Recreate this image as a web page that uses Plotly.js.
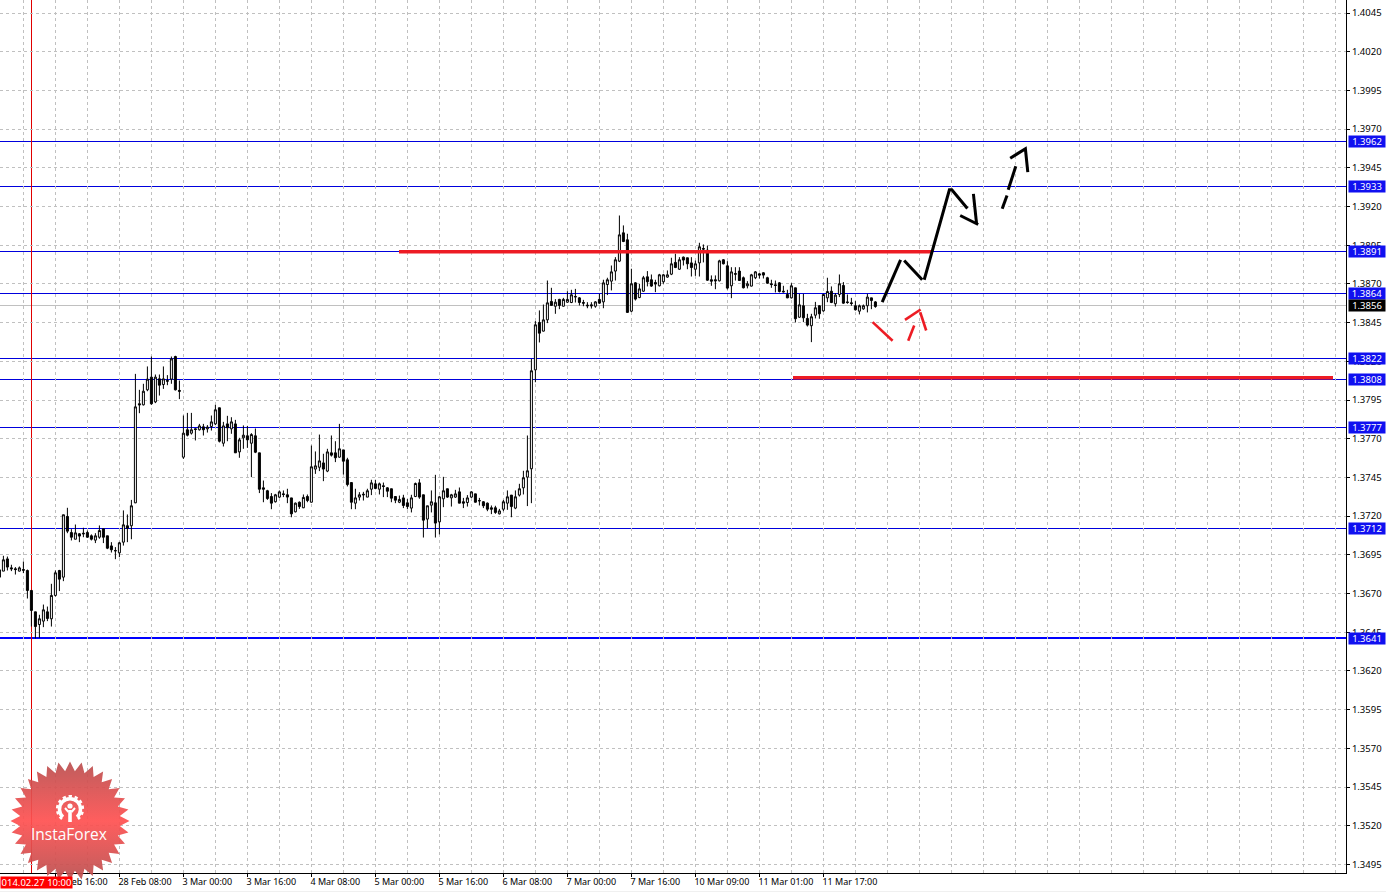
<!DOCTYPE html>
<html>
<head>
<meta charset="utf-8">
<script src="https://cdn.plot.ly/plotly-3.0.1.min.js"></script>
<style>html,body{margin:0;padding:0;background:#fff;overflow:hidden}
.shapelayer path{shape-rendering:crispEdges}</style>
</head>
<body>
<div id="chart" style="width:1386px;height:892px"></div>
<script>
const openP = [
1.36853,1.36845,1.36924,1.36866,1.36860,1.36845,1.36855,1.36849,1.36720,1.36582,
1.36500,1.36522,1.36582,1.36537,1.36688,1.36849,1.36806,1.37198,1.37094,1.37051,
1.37086,1.37090,1.37094,1.37073,1.37045,1.37064,1.37118,1.37073,1.37008,1.36978,
1.36963,1.37032,1.37138,1.37138,1.37286,1.37926,1.37919,1.38016,1.38098,1.37938,
1.38087,1.38050,1.38076,1.38085,1.38231,1.38012,1.37581,1.37758,1.37736,1.37764,
1.37758,1.37777,1.37764,1.37779,1.37796,1.37900,1.37671,1.37796,1.37764,1.37796,
1.37615,1.37706,1.37719,1.37671,1.37719,1.37609,1.37383,1.37364,1.37327,1.37293,
1.37323,1.37344,1.37338,1.37318,1.37228,1.37290,1.37254,1.37327,1.37290,1.37504,
1.37516,1.37544,1.37491,1.37609,1.37609,1.37581,1.37628,1.37564,1.37417,1.37284,
1.37323,1.37342,1.37323,1.37374,1.37409,1.37374,1.37396,1.37383,1.37377,1.37327,
1.37290,1.37318,1.37286,1.37252,1.37327,1.37415,1.37338,1.37181,1.37271,1.37286,
1.37163,1.37312,1.37377,1.37318,1.37323,1.37357,1.37293,1.37288,1.37323,1.37344,
1.37301,1.37293,1.37284,1.37254,1.37254,1.37215,1.37245,1.37284,1.37336,1.37252,
1.37336,1.37383,1.37452,1.37506,1.38145,
1.38451,1.38395,1.38468,1.38587,1.38556,
1.38600,1.38556,1.38582,1.38580,1.38615,1.38610,1.38580,1.38563,1.38565,1.38556,
1.38600,1.38584,1.38696,1.38718,1.38783,1.38847,1.39030,1.38985,1.38524,1.38707,
1.38612,1.38653,1.38746,1.38727,1.38709,1.38688,1.38714,1.38744,1.38763,1.38839,
1.38795,1.38873,1.38869,1.38836,1.38795,1.38836,1.38929,1.38918,1.38727,1.38727,
1.38720,1.38856,1.38817,1.38688,1.38767,
1.38783,1.38740,1.38688,1.38686,1.38740,
1.38765,1.38772,1.38740,1.38701,1.38694,1.38707,1.38653,1.38632,1.38610,1.38675,
1.38485,1.38559,1.38477,1.38430,1.38498,1.38559,1.38526,1.38610,1.38653,1.38572,
1.38632,1.38690,1.38584,1.38578,1.38559,1.38524,1.38539,1.38559,1.38610,1.38584];
const highP = [
1.36860,1.36944,1.36939,1.36886,1.36871,1.36875,1.36907,1.36855,1.36720,1.36582,
1.36563,1.36629,1.36616,1.36763,1.36849,1.36853,1.37209,1.37254,1.37116,1.37146,
1.37090,1.37125,1.37107,1.37082,1.37090,1.37140,1.37118,1.37073,1.37032,1.37000,
1.37034,1.37237,1.37211,1.37305,1.38119,1.38016,1.38055,1.38167,1.38231,1.38115,
1.38115,1.38167,1.38111,1.38231,1.38236,1.38076,1.37850,1.37867,1.37867,1.37768,
1.37796,1.37796,1.37788,1.37850,1.37919,1.37900,1.37809,1.37848,1.37839,1.37822,
1.37706,1.37786,1.37783,1.37736,1.37766,1.37609,1.37430,1.37370,1.37349,1.37344,
1.37366,1.37366,1.37377,1.37318,1.37288,1.37295,1.37340,1.37340,1.37656,1.37618,
1.37727,1.37603,1.37635,1.37721,1.37684,1.37796,1.37628,1.37577,1.37417,1.37377,
1.37355,1.37357,1.37377,1.37435,1.37435,1.37417,1.37417,1.37387,1.37377,1.37329,
1.37333,1.37338,1.37310,1.37338,1.37417,1.37439,1.37338,1.37267,1.37366,1.37467,
1.37331,1.37454,1.37377,1.37344,1.37370,1.37385,1.37318,1.37336,1.37361,1.37344,
1.37318,1.37297,1.37288,1.37269,1.37267,1.37247,1.37305,1.37366,1.37336,1.37366,
1.37409,1.37493,1.37721,1.38216,1.38460,
1.38529,1.38567,1.38722,1.38675,1.38602,
1.38604,1.38610,1.38653,1.38662,1.38668,1.38615,1.38597,1.38582,1.38582,1.38589,
1.38636,1.38727,1.38740,1.38819,1.38873,1.39142,1.39078,1.39024,1.38798,1.38712,
1.38701,1.38752,1.38783,1.38761,1.38727,1.38765,1.38765,1.38787,1.38869,1.38895,
1.38873,1.38877,1.38869,1.38873,1.38851,1.38966,1.38955,1.38948,1.38755,1.38755,
1.38856,1.38860,1.38847,1.38808,1.38808,
1.38808,1.38748,1.38718,1.38765,1.38783,
1.38770,1.38776,1.38746,1.38727,1.38722,1.38712,1.38688,1.38662,1.38705,1.38675,
1.38636,1.38636,1.38507,1.38507,1.38584,1.38563,1.38636,1.38740,1.38684,1.38641,
1.38761,1.38712,1.38632,1.38610,1.38589,1.38567,1.38567,1.38636,1.38610,1.38589];
const lowP = [
1.36795,1.36845,1.36849,1.36845,1.36823,1.36843,1.36832,1.36668,1.36487,1.36410,
1.36414,1.36483,1.36522,1.36487,1.36681,1.36716,1.36780,1.37090,1.37043,1.37051,
1.37032,1.37064,1.37060,1.37043,1.37026,1.37054,1.37026,1.36987,1.36965,1.36922,
1.36935,1.37010,1.37032,1.37051,1.37284,1.37865,1.37915,1.38007,1.37919,1.37930,
1.37979,1.38022,1.38046,1.38055,1.38012,1.37956,1.37570,1.37715,1.37727,1.37689,
1.37753,1.37721,1.37740,1.37753,1.37788,1.37676,1.37650,1.37684,1.37732,1.37609,
1.37577,1.37635,1.37641,1.37452,1.37607,1.37349,1.37290,1.37305,1.37245,1.37288,
1.37318,1.37323,1.37284,1.37193,1.37224,1.37247,1.37252,1.37290,1.37288,1.37473,
1.37491,1.37426,1.37484,1.37585,1.37549,1.37577,1.37469,1.37392,1.37245,1.37245,
1.37301,1.37301,1.37323,1.37336,1.37374,1.37340,1.37323,1.37323,1.37290,1.37284,
1.37284,1.37252,1.37245,1.37224,1.37323,1.37312,1.37062,1.37120,1.37224,1.37062,
1.37082,1.37258,1.37318,1.37262,1.37318,1.37284,1.37252,1.37262,1.37318,1.37288,
1.37269,1.37252,1.37232,1.37213,1.37215,1.37211,1.37232,1.37241,1.37193,1.37245,
1.37327,1.37340,1.37265,1.37284,1.38065,
1.38322,1.38393,1.38447,1.38561,1.38507,
1.38537,1.38554,1.38578,1.38576,1.38580,1.38561,1.38556,1.38543,1.38541,1.38546,
1.38572,1.38543,1.38628,1.38658,1.38722,1.38841,1.38970,1.38516,1.38518,1.38593,
1.38608,1.38649,1.38684,1.38681,1.38647,1.38684,1.38701,1.38740,1.38757,1.38802,
1.38791,1.38819,1.38795,1.38748,1.38752,1.38748,1.38839,1.38720,1.38688,1.38666,
1.38716,1.38826,1.38664,1.38608,1.38722,
1.38722,1.38671,1.38671,1.38684,1.38731,
1.38735,1.38735,1.38701,1.38675,1.38645,1.38645,1.38645,1.38608,1.38606,1.38451,
1.38481,1.38453,1.38425,1.38324,1.38477,1.38475,1.38520,1.38582,1.38576,1.38554,
1.38615,1.38572,1.38572,1.38559,1.38528,1.38503,1.38533,1.38516,1.38537,1.38546];
const closeP = [
1.36806,1.36918,1.36871,1.36860,1.36855,1.36866,1.36851,1.36720,1.36591,1.36487,
1.36537,1.36595,1.36539,1.36688,1.36834,1.36793,1.37209,1.37103,1.37064,1.37092,
1.37071,1.37086,1.37064,1.37051,1.37073,1.37107,1.37064,1.36993,1.36983,1.36976,
1.37028,1.37144,1.37122,1.37267,1.37906,1.37919,1.38007,1.38085,1.37926,1.38098,
1.38046,1.38087,1.38072,1.38216,1.38016,1.38007,1.37736,1.37723,1.37758,1.37760,
1.37783,1.37758,1.37775,1.37809,1.37887,1.37684,1.37783,1.37771,1.37809,1.37609,
1.37693,1.37723,1.37693,1.37727,1.37613,1.37374,1.37374,1.37314,1.37284,1.37338,
1.37357,1.37340,1.37323,1.37215,1.37284,1.37262,1.37321,1.37301,1.37519,1.37525,
1.37557,1.37504,1.37615,1.37594,1.37577,1.37635,1.37555,1.37404,1.37290,1.37318,
1.37338,1.37338,1.37364,1.37415,1.37379,1.37409,1.37392,1.37361,1.37316,1.37303,
1.37308,1.37269,1.37262,1.37318,1.37411,1.37323,1.37174,1.37267,1.37293,1.37155,
1.37325,1.37364,1.37323,1.37338,1.37344,1.37284,1.37284,1.37318,1.37357,1.37290,
1.37299,1.37267,1.37245,1.37245,1.37224,1.37234,1.37293,1.37325,1.37262,1.37325,
1.37377,1.37448,1.37493,1.38139,1.38436,
1.38382,1.38468,1.38578,1.38561,1.38582,
1.38561,1.38600,1.38600,1.38630,1.38619,1.38580,1.38576,1.38559,1.38559,1.38584,
1.38576,1.38707,1.38727,1.38778,1.38856,1.39017,1.38974,1.38516,1.38701,1.38602,
1.38668,1.38740,1.38714,1.38686,1.38699,1.38759,1.38759,1.38759,1.38830,1.38806,
1.38856,1.38854,1.38830,1.38806,1.38830,1.38940,1.38925,1.38724,1.38718,1.38720,
1.38849,1.38830,1.38673,1.38778,1.38763,
1.38722,1.38675,1.38701,1.38759,1.38778,
1.38757,1.38757,1.38705,1.38696,1.38690,1.38651,1.38649,1.38610,1.38688,1.38475,
1.38565,1.38481,1.38434,1.38488,1.38546,1.38507,1.38632,1.38651,1.38580,1.38628,
1.38701,1.38576,1.38580,1.38574,1.38533,1.38559,1.38559,1.38615,1.38593,1.38554];

const barIndex = openP.map((_, i) => i - 1);

const priceTicks = [1.4045,1.4020,1.3995,1.3970,1.3945,1.3920,1.3895,1.3870,1.3845,1.3820,1.3795,1.3770,
  1.3745,1.3720,1.3695,1.3670,1.3645,1.3620,1.3595,1.3570,1.3545,1.3520,1.3495];
const timeTickBars = [13,29,45,61,77,93,109,125,141,157,173,189,205];
const timeTickLabels = ["27 Feb 16:00","28 Feb 08:00","3 Mar 00:00","3 Mar 16:00","4 Mar 08:00","5 Mar 00:00",
  "5 Mar 16:00","6 Mar 08:00","7 Mar 00:00","7 Mar 16:00","10 Mar 09:00","11 Mar 01:00","11 Mar 17:00"];

const levels = [1.3962,1.3933,1.3891,1.3864,1.3822,1.3808,1.3777,1.3712,1.3641];
const bidLevel = 1.3856;
const cursorBar = 7;
const cursorLabel = "014.02.27 10:00";

const forecastX = [219.7,224.3,null,225.2,229.7,null,230.2,236.5,237.1,241.0,null,242.5,243.3,null,239.2,243.7,null,
  249.7,250.9,null,251.2,253.1,null,251.7,255.5,256.1];
const forecastY = [1.38582,1.38856,null,1.38851,1.38727,null,1.38727,1.39308,1.39308,1.39187,null,1.39282,1.39088,null,1.39142,1.39084,null,
  1.39185,1.39271,null,1.39308,1.39460,null,1.39512,1.39573,1.39422];
const pullbackX = [217.3,222.3,null,226.2,227.7,null,225.4,229.3,null,229.2,230.7];
const pullbackY = [1.38453,1.38333,null,1.38333,1.38432,null,1.38468,1.38535,null,1.38517,1.38399];
const resistX = [98.9,232.15];
const resistY = [1.38908,1.38908];
const supportX = [197.4,332.4];
const supportY = [1.38094,1.38094];

const FONT = '"Noto Sans", Tahoma, sans-serif';
const BLUE = '#0000dd', GRID = '#c0c0c0', THICKRED = '#ed1c24';
const PW = 1346, PH = 873;

function starSvg() {
  const cx = 60, cy = 60, n = 32, R = 59.5, r = 50;
  let pts = [];
  for (let k = 0; k < n * 2; k++) {
    const a = -Math.PI / 2 + k * Math.PI / n, q = k % 2 ? r : R;
    pts.push((cx + q * Math.cos(a)).toFixed(1) + ',' + (cy + q * Math.sin(a)).toFixed(1));
  }
  const gcx = 60, gcy = 48;
  return `<svg xmlns="http://www.w3.org/2000/svg" width="120" height="120" viewBox="0 0 120 120">
  <defs><linearGradient id="g" x1="0" y1="0" x2="0" y2="1">
  <stop offset="0" stop-color="#b94f4f"/><stop offset="0.5" stop-color="#ff5050"/><stop offset="1" stop-color="#b94f4f"/></linearGradient></defs>
  <polygon points="${pts.join(' ')}" fill="url(#g)" fill-opacity="0.92"/>
  <g fill="none" stroke="#fff">
  <path d="M ${gcx-7} ${gcy+8} A 10.5 10.5 0 1 1 ${gcx+7} ${gcy+8}" stroke-width="3.5"/>
  <path d="M ${gcx-8} ${gcy+10} A 12.8 12.8 0 1 1 ${gcx+8} ${gcy+10}" stroke-width="2.6" stroke-dasharray="3.2 2.8"/>
  <path d="M ${gcx-5} ${gcy-1} L ${gcx-1.5} ${gcy+3} M ${gcx+5} ${gcy-1} L ${gcx+1.5} ${gcy+3}" stroke-width="2"/>
  </g>
  <circle cx="${gcx}" cy="${gcy-3}" r="2.6" fill="#fff"/>
  <rect x="${gcx-1.8}" y="${gcy+1}" width="3.6" height="12" fill="#fff"/>
  </svg>`;
}

const traces = [
  { type: 'candlestick', x: barIndex, open: openP, high: highP, low: lowP, close: closeP,
    increasing: { line: { color: '#000', width: 1 }, fillcolor: '#fff' },
    decreasing: { line: { color: '#000', width: 1 }, fillcolor: '#000' },
    whiskerwidth: 0, hoverinfo: 'skip', showlegend: false },
  { type: 'scatter', mode: 'lines', x: resistX, y: resistY, line: { color: THICKRED, width: 3.5 }, hoverinfo: 'skip', showlegend: false },
  { type: 'scatter', mode: 'lines', x: supportX, y: supportY, line: { color: THICKRED, width: 3.5 }, hoverinfo: 'skip', showlegend: false },
  { type: 'scatter', mode: 'lines', x: forecastX, y: forecastY, line: { color: '#000', width: 3 }, connectgaps: false, hoverinfo: 'skip', showlegend: false },
  { type: 'scatter', mode: 'lines', x: pullbackX, y: pullbackY, line: { color: THICKRED, width: 2.6 }, connectgaps: false, hoverinfo: 'skip', showlegend: false }
];

const shapes = levels.map(v => ({ type: 'line', xref: 'paper', x0: 0, x1: 1, yref: 'y', y0: v, y1: v, layer: 'below',
  line: { color: v === 1.3641 ? '#0000ff' : BLUE, width: v === 1.3641 ? 2 : 1 } }));
shapes.push({ type: 'line', xref: 'paper', x0: 0, x1: 1, yref: 'y', y0: bidLevel, y1: bidLevel, layer: 'below', line: { color: GRID, width: 1 } });
shapes.push({ type: 'line', xref: 'x', x0: cursorBar, x1: cursorBar, yref: 'paper', y0: 0, y1: 1, layer: 'below', line: { color: '#e00000', width: 1 } });
shapes.push({ type: 'rect', xref: 'paper', x0: 0, x1: 1386 / PW, yref: 'paper', y0: -18 / PH, y1: -19 / PH, fillcolor: '#f0f0f0', line: { width: 0 } });

const labelAnn = (v, bg) => ({ xref: 'paper', x: 1348 / PW, xanchor: 'left', yref: 'y', y: v, yanchor: 'middle',
  text: v.toFixed(4), showarrow: false, width: 36, height: 11, bgcolor: bg, borderpad: 0, align: 'center',
  font: { family: FONT, size: 9.5, color: '#fff' } });
const annotations = levels.map(v => labelAnn(v, '#1010f0'));
annotations.push(labelAnn(bidLevel, '#000'));
annotations.push({ xref: 'paper', x: 0, xanchor: 'left', yref: 'paper', y: -9 / PH, yanchor: 'middle',
  text: cursorLabel, showarrow: false, width: 71, height: 11, bgcolor: '#ff0000', borderpad: 0, align: 'center',
  font: { family: FONT, size: 9.5, color: '#fff' } });
annotations.push({ xref: 'paper', x: 69 / PW, xanchor: 'center', yref: 'paper', y: (PH - 834) / PH, yanchor: 'middle',
  text: 'InstaForex', showarrow: false, font: { family: '"Open Sans", sans-serif', size: 15.5, color: '#fff' } });

const layout = {
  width: 1386, height: 892, autosize: false,
  margin: { l: 0, r: 40, t: 0, b: 19, pad: 0 },
  paper_bgcolor: '#fff', plot_bgcolor: '#fff',
  showlegend: false, boxgap: 0.5, boxgroupgap: 0,
  xaxis: {
    type: 'linear', range: [-0.85, 335.65], fixedrange: true, rangeslider: { visible: false },
    tickmode: 'array', tickvals: timeTickBars, ticktext: timeTickLabels, tickangle: 0,
    ticks: 'outside', ticklen: 3, tickcolor: '#000', ticklabelposition: 'outside right', ticklabelshift: -2,
    tickfont: { family: FONT, size: 9, color: '#000' },
    showgrid: true, gridcolor: GRID, griddash: '3px,3px', gridwidth: 1,
    minor: { tick0: 5, dtick: 8, showgrid: true, gridcolor: GRID, griddash: '3px,3px', gridwidth: 1, ticks: '' },
    showline: true, linecolor: '#000', linewidth: 1, zeroline: false
  },
  yaxis: {
    side: 'right', range: [1.34895, 1.40534], fixedrange: true,
    tickmode: 'array', tickvals: priceTicks, ticktext: priceTicks.map(v => v.toFixed(4)),
    ticks: 'outside', ticklen: 3, tickcolor: '#000',
    tickfont: { family: FONT, size: 9.5, color: '#000' },
    showgrid: true, gridcolor: GRID, griddash: '3px,3px', gridwidth: 1,
    showline: true, linecolor: '#000', linewidth: 1, zeroline: false
  },
  shapes, annotations,
  images: [{
    source: 'data:image/svg+xml;charset=utf-8,' + encodeURIComponent(starSvg()),
    xref: 'paper', yref: 'paper', x: 10 / PW, y: (PH - 761) / PH,
    sizex: 120 / PW, sizey: 120 / PH, xanchor: 'left', yanchor: 'top', sizing: 'stretch', layer: 'above'
  }]
};
Plotly.newPlot('chart', traces, layout, { displayModeBar: false, staticPlot: true });
</script>
</body>
</html>
